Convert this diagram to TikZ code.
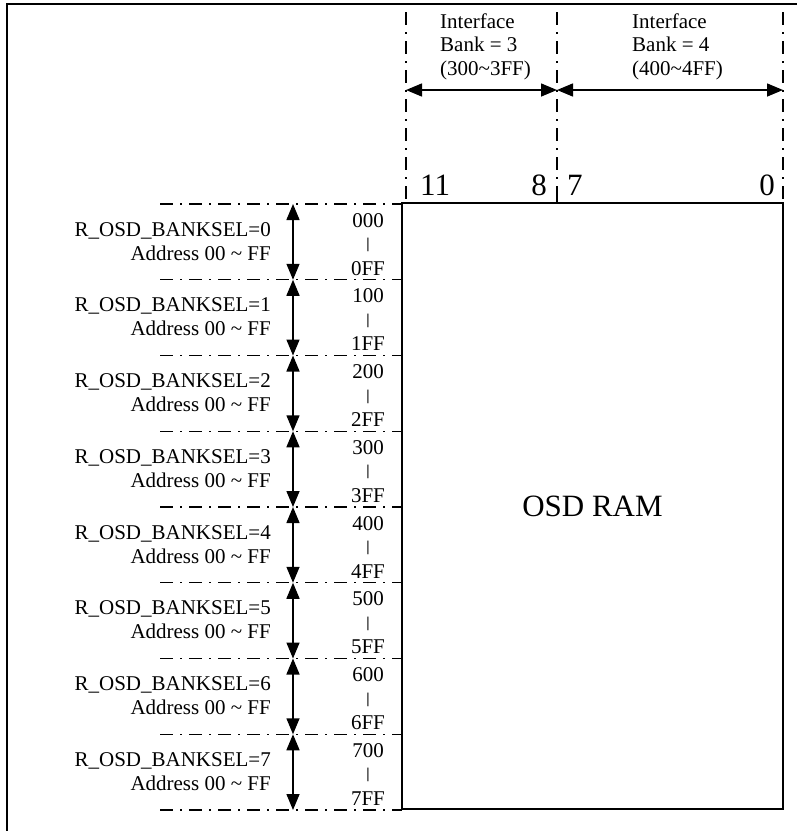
\documentclass[tikz,border=0pt]{standalone}
\usepackage{fontspec}
\setmainfont{Liberation Serif}
\usetikzlibrary{arrows.meta}
\tikzset{
  txt/.style={inner sep=0pt, font=\fontsize{21}{23.5}\selectfont},
  bartxt/.style={inner sep=0pt, font=\fontsize{15}{17}\selectfont\bfseries},
  bigtxt/.style={inner sep=0pt, font=\fontsize{31}{36}\selectfont},
  dd/.style={line width=1.4pt, dash pattern=on 13pt off 7pt on 2pt off 7pt},
  dimarrow/.style={line width=1.5pt, {Triangle[length=16pt,width=13pt]}-{Triangle[length=16pt,width=13pt]}},
  boxline/.style={line width=1.5pt},
  frameline/.style={line width=2.5pt},
}
\begin{document}
\begin{tikzpicture}[x=1pt,y=-1pt]
\useasboundingbox (0,0) rectangle (797,831);
% outer frame (top and left edges)
\coordinate (fbl) at (7,831);
\coordinate (ftl) at (7,4);
\coordinate (ftr) at (797,4);
\draw[frameline] (fbl) -- (ftl) -- (ftr);

% OSD RAM box
\node[draw, boxline, bigtxt, minimum width=381pt, minimum height=606pt] (ram) at (592.5,506) {OSD RAM};

% vertical dash-dot guides at the top
\foreach \n/\x in {va/406, vb/557, vc/783} {
  \coordinate (\n t) at (\x,12);
  \coordinate (\n b) at (\x,203);
  \draw[dd] (\n t) -- (\n b);
}
\coordinate (tickt) at (557,195);
\coordinate (tickb) at (557,203);
\draw[boxline] (tickt) -- (tickb);

% interface arrows
\coordinate (a1) at (406,90);
\coordinate (a2) at (557,90);
\coordinate (a3) at (783,90);
\draw[dimarrow] (a1) -- (a2);
\draw[dimarrow] (a2) -- (a3);

% interface labels
\node[txt, align=left, anchor=north west] (if3) at (440,13.5) {Interface\\Bank = 3\\(300\textasciitilde 3FF)};
\node[txt, align=left, anchor=north west] (if4) at (632,13.5) {Interface\\Bank = 4\\(400\textasciitilde 4FF)};

% bit numbers
\node[bigtxt, anchor=base west] (b11) at (420,195) {11};
\node[bigtxt, anchor=base east] (b8) at (547,195) {8};
\node[bigtxt, anchor=base west] (b7) at (567,195) {7};
\node[bigtxt, anchor=base east] (b0) at (775,195) {0};

% horizontal dash-dot lines
\foreach \i in {0,...,8} {
  \pgfmathsetmacro{\yy}{204+75.75*\i}
  \coordinate (hl\i) at (160,\yy);
  \coordinate (hr\i) at (402,\yy);
  \coordinate (ha\i) at (293,\yy);
  \draw[dd] (hl\i) -- (hr\i);
}

% bank rows
\foreach \i [evaluate=\i as \j using int(\i+1)] in {0,...,7} {
  \pgfmathsetmacro{\yy}{204+75.75*\i}
  \draw[dimarrow] (ha\i) -- (ha\j);
  \node[txt, anchor=base east] (sel\i) at (271,\yy+32) {R\_OSD\_BANKSEL=\i};
  \node[txt, anchor=base east] (adr\i) at (271,\yy+56) {Address 00 \textasciitilde{} FF};
  \node[txt, anchor=base] (st\i) at (368,\yy+23) {\i00};
  \node[bartxt] (bar\i) at (368,\yy+41) {|};
  \node[txt, anchor=base] (en\i) at (368,\yy+71) {\i FF};
}
\end{tikzpicture}
\end{document}
